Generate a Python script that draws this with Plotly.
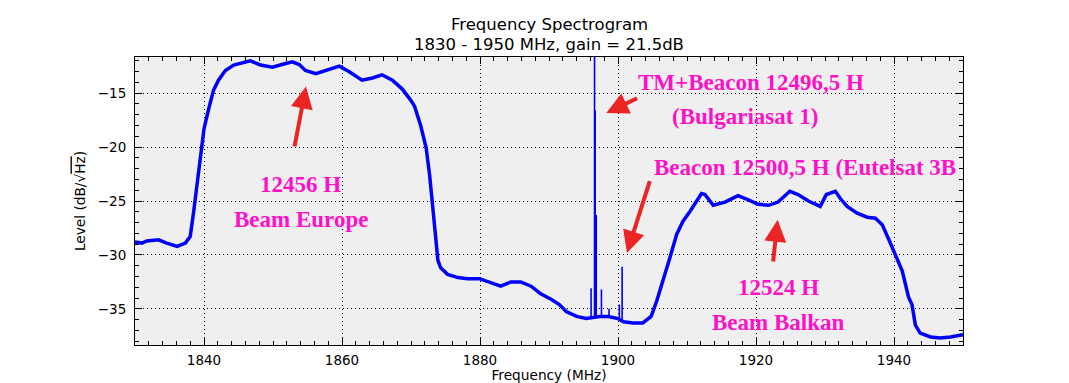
import plotly.graph_objects as go

# ---- data ----
freq_mhz = [1830.0, 1831.0, 1831.7, 1833.4, 1834.6, 1836.1, 1837.3, 1838.0, 1838.5, 1839.0,
            1839.5, 1840.0, 1840.7, 1841.4, 1842.1, 1843.1, 1844.3, 1845.7, 1846.7, 1848.2,
            1849.9, 1851.3, 1852.8, 1853.8, 1854.7, 1856.2, 1857.6, 1859.6, 1861.0, 1862.9,
            1864.4, 1865.8, 1867.3, 1868.7, 1869.9, 1870.5, 1871.4, 1872.2, 1872.7, 1873.1,
            1873.5, 1873.9, 1874.3, 1875.3, 1876.8, 1878.2, 1879.9, 1881.6, 1883.0, 1884.5,
            1885.9, 1887.4, 1888.8, 1890.3, 1891.5, 1892.5, 1894.0, 1895.4, 1896.4, 1897.4,
            1898.6, 1900.0, 1900.8, 1902.2, 1903.6, 1904.8, 1905.6, 1906.5, 1907.5, 1908.5,
            1909.4, 1910.4, 1911.3, 1912.1, 1912.6, 1913.8, 1915.5, 1917.4, 1918.9, 1920.3,
            1921.8, 1923.2, 1924.9, 1926.1, 1927.6, 1929.3, 1930.2, 1931.5, 1932.2, 1933.2,
            1934.6, 1936.1, 1937.3, 1938.3, 1939.2, 1940.2, 1941.2, 1942.1, 1942.6, 1943.1,
            1943.8, 1945.3, 1946.7, 1948.2, 1950.0]
level_db = [-28.8, -28.9, -28.7, -28.6, -28.9, -29.2, -28.9, -28.3, -26.0, -23.2,
            -20.4, -18.3, -16.4, -14.7, -13.8, -12.9, -12.4, -12.2, -12.0, -12.4,
            -12.6, -12.35, -12.1, -12.35, -12.9, -13.2, -12.9, -12.5, -13.0, -13.8,
            -13.6, -13.3, -13.8, -14.6, -15.6, -16.2, -18.0, -20.1, -22.6, -25.1,
            -27.5, -30.5, -31.2, -31.8, -32.1, -32.2, -32.2, -32.6, -32.9, -32.5,
            -32.5, -32.9, -33.6, -34.1, -34.6, -35.25, -35.7, -35.9, -35.8, -35.7,
            -35.7, -35.9, -36.2, -36.3, -36.3, -35.7, -34.3, -32.5, -30.3, -28.1,
            -26.9, -26.0, -25.1, -24.3, -24.4, -25.4, -25.1, -24.5, -24.9, -25.3,
            -25.4, -25.1, -24.1, -24.4, -25.0, -25.5, -24.4, -24.1, -24.75, -25.5,
            -26.1, -26.5, -26.6, -27.2, -28.5, -30.0, -31.5, -33.9, -34.6, -36.5,
            -37.25, -37.6, -37.7, -37.6, -37.4]

# narrow carriers (spikes): frequency, noise floor under it, peak level
carrier_freq_mhz = [1896.1, 1896.6, 1896.7, 1896.85, 1897.6, 1898.7, 1900.2, 1900.6]
carrier_floor_db = [-35.9, -35.8, -35.8, -35.8, -35.7, -35.7, -35.9, -36.0]
carrier_peak_db = [-33.1, -8.0, -16.6, -26.3, -33.2, -35.0, -34.6, -31.1]

title_lines = ["Frequency Spectrogram", "1830 - 1950 MHz, gain = 21.5dB"]
x_tick_vals = [1840, 1860, 1880, 1900, 1920, 1940]
y_tick_vals = [-35, -30, -25, -20, -15]

BLUE = "#0000ff"
PINK = "#ff10c8"
RED = "#ec2424"

spike_x, spike_y = [], []
for f, lo, hi in zip(carrier_freq_mhz, carrier_floor_db, carrier_peak_db):
    spike_x += [f, f, None]
    spike_y += [lo, hi, None]

fig = go.Figure()
fig.add_trace(go.Scatter(x=freq_mhz, y=level_db, mode="lines",
                         line=dict(color=BLUE, width=3.5), hoverinfo="skip"))
fig.add_trace(go.Scatter(x=spike_x, y=spike_y, mode="lines",
                         line=dict(color=BLUE, width=1.6), hoverinfo="skip"))

ann_font = dict(family="Liberation Serif", size=23, color=PINK)
labels = [
    ("<b>12456 H</b>", 1854.0, -23.5, "center"),
    ("<b>Beam Europe</b>", 1854.1, -26.7, "center"),
    ("<b>TM+Beacon 12496,5 H</b>", 1919.3, -14.0, "center"),
    ("<b>(Bulgariasat 1)</b>", 1918.4, -17.2, "center"),
    ("<b>Beacon 12500,5 H (Eutelsat 3B</b>", 1904.95, -21.85, "left"),
    ("<b>12524 H</b>", 1923.3, -33.0, "center"),
    ("<b>Beam Balkan</b>", 1923.2, -36.25, "center"),
]
annotations = []
for txt, x, y, xa in labels:
    annotations.append(dict(x=x, y=y, xref="x", yref="y", text=txt, showarrow=False,
                            xanchor=xa, yanchor="middle", font=ann_font))

arrows = [
    (1854.78, -14.39, -11.7, 61.3),
    (1898.3, -16.85, 32.3, -15.6),
    (1901.3, -29.81, 23.3, -73.3),
    (1923.13, -26.73, -4.6, 43.3),
]
for x, y, ax, ay in arrows:
    annotations.append(dict(x=x, y=y, xref="x", yref="y", ax=ax, ay=ay, text="",
                            showarrow=True, arrowhead=2, arrowsize=1.1, arrowwidth=4,
                            arrowcolor=RED, standoff=0))

# title lines as paper annotations (plot area is 288 px tall)
title_font = dict(family="DejaVu Sans", size=16.5, color="black")
for line, y_px_above in zip(title_lines, [33, 12]):
    annotations.append(dict(x=0.5, y=1 + y_px_above / 288, xref="paper", yref="paper",
                            text=line, showarrow=False, xanchor="center", yanchor="middle",
                            font=title_font))

fig.update_layout(
    width=1061, height=375,
    margin=dict(l=127, r=106, t=49, b=38),
    paper_bgcolor="white", plot_bgcolor="#efefef",
    showlegend=False,
    font=dict(family="DejaVu Sans", color="black", size=13.5),
    annotations=annotations,
)
fig.update_xaxes(
    range=[1830, 1950], tickvals=x_tick_vals, ticks="inside", ticklen=7, tickwidth=1,
    tickcolor="black", mirror="allticks", showline=True, linecolor="black", linewidth=1,
    showgrid=True, gridcolor="black", gridwidth=1, griddash="1px,3px", zeroline=False,
    minor=dict(dtick=2, tick0=1830, ticks="inside", ticklen=4, tickcolor="black", showgrid=False),
    title=dict(text="Frequency (MHz)", standoff=6, font=dict(size=13.7)),
    automargin=False, tickfont=dict(size=13.5), ticklabelstandoff=3,
)
fig.update_yaxes(
    range=[-38.35, -11.65], tickvals=y_tick_vals, ticks="inside", ticklen=7, tickwidth=1,
    tickcolor="black", mirror="allticks", showline=True, linecolor="black", linewidth=1,
    showgrid=True, gridcolor="black", gridwidth=1, griddash="1px,3px", zeroline=False,
    minor=dict(dtick=1, tick0=-38, ticks="inside", ticklen=4, tickcolor="black", showgrid=False),
    title=dict(text="Level (dB/√<span style='text-decoration:overline'>Hz</span>)",
               standoff=9, font=dict(size=13.7)),
    automargin=False, tickfont=dict(size=13.5), ticklabelstandoff=5,
)

fig.write_html("out.html")
